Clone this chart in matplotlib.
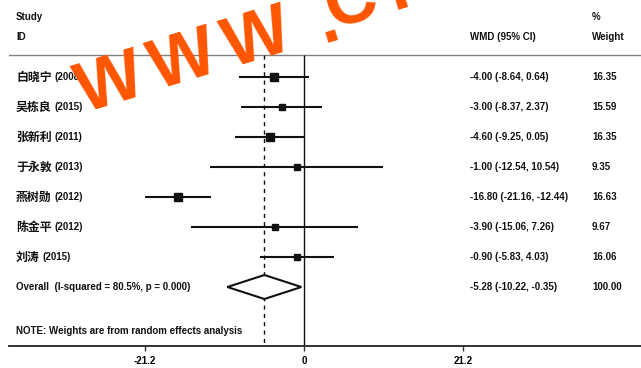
import numpy as np
import matplotlib
matplotlib.use("Agg")
import matplotlib.pyplot as plt

# study data
names = ["白晓宁", "吴栋良", "张新利", "于永敦", "燕树勋", "陈金平", "刘涛"]
years = ["2008", "2015", "2011", "2013", "2012", "2012", "2015"]
wmd = [-4.00, -3.00, -4.60, -1.00, -16.80, -3.90, -0.90]
ci_low = [-8.64, -8.37, -9.25, -12.54, -21.16, -15.06, -5.83]
ci_high = [0.64, 2.37, 0.05, 10.54, -12.44, 7.26, 4.03]
weights = [16.35, 15.59, 16.35, 9.35, 16.63, 9.67, 16.06]

overall_est = -5.28
overall_low = -10.22
overall_high = -0.35
i_squared = 80.5
p_value = 0.000

xticks = [-21.2, 0, 21.2]
xtick_labels = ["-21.2", "0", "21.2"]

W, H = 641, 368
fig = plt.figure(figsize=(W / 100, H / 100), dpi=100)
fig.patch.set_facecolor("white")

# axis spans from x pixel 9 to the right edge, bottom spine at pixel 346
ax = fig.add_axes([9 / W, (H - 346) / H, 1 - 9 / W, 346 / H])
px = 7.5  # pixels per unit
ax.set_xlim((9 - 304) / px, (W - 304) / px)
ax.set_ylim(1 + 269 / 30, 1 - 77 / 30)

for s in ["top", "left", "right"]:
    ax.spines[s].set_visible(False)
ax.spines["bottom"].set_color("#333333")
ax.spines["bottom"].set_linewidth(1.4)
ax.set_yticks([])
ax.set_xticks(xticks)
ax.set_xticklabels(xtick_labels, fontsize=7, fontweight="bold", family="Liberation Sans")
ax.tick_params(axis="x", length=3.5, width=1, color="#333333", pad=3.5)

txt = dict(fontsize=7, fontweight="bold", family="Liberation Sans", color="#111111", va="center")
cjk = dict(fontsize=8.6, fontweight="bold", family="Noto Sans CJK SC", color="#111111", va="center")

x_lab = (16 - 304) / px
x_wmd = (470 - 304) / px
x_wt = (592 - 304) / px

header_y = 1 - 22 / 30
ax.axhline(header_y, color="#808080", lw=1.0)
ax.text(x_lab, -1.0, "Study", **txt)
ax.text(x_lab, -1 / 3, "ID", **txt)
ax.text(x_wmd, -1 / 3, "WMD (95% CI)", **txt)
ax.text(x_wt, -1.0, "%", **txt)
ax.text(x_wt, -1 / 3, "Weight", **txt)

rows = np.arange(1, len(names) + 1)
ybot = ax.get_ylim()[0]
ax.vlines(0, header_y, ybot, color="#111111", lw=1.0)
ax.vlines(overall_est, header_y, ybot, color="#111111", lw=1.0, linestyles=(0, (3, 3)))

for r, n, yr, m, lo, hi, w in zip(rows, names, years, wmd, ci_low, ci_high, weights):
    ax.plot([lo, hi], [r, r], color="#111111", lw=1.5, solid_capstyle="butt")
    ax.plot(m, r, marker="s", color="#111111", ms=1.25 * np.sqrt(w))
    t = ax.text(x_lab, r, n, **cjk)
    ax.annotate("(%s)" % yr, xy=(1, 0.5), xycoords=t, xytext=(2, 0),
                textcoords="offset points", ha="left", **txt)
    ax.text(x_wmd, r, "%.2f (%.2f, %.2f)" % (m, lo, hi), **txt)
    ax.text(x_wt, r, "%.2f" % w, **txt)

# overall diamond
r_ov = len(names) + 1
dx = [overall_low, overall_est, overall_high, overall_est, overall_low]
dy = [r_ov, r_ov - 0.4, r_ov, r_ov + 0.4, r_ov]
ax.fill(dx, dy, facecolor="white", edgecolor="#111111", lw=1.5, zorder=3)
ax.text(x_lab, r_ov, "Overall  (I-squared = %.1f%%, p = %.3f)" % (i_squared, p_value), **txt)
ax.text(x_wmd, r_ov, "%.2f (%.2f, %.2f)" % (overall_est, overall_low, overall_high), **txt)
ax.text(x_wt, r_ov, "%.2f" % sum(weights), **txt)

ax.text(x_lab, 1 + 254 / 30, "NOTE: Weights are from random effects analysis", **txt)

# watermark, one glyph at a time along a tilted baseline
theta = 17.0
ct, st = np.cos(np.radians(theta)), np.sin(np.radians(theta))
x0, y0 = 115.5, 103
wm_chars = "WWW.C."
wm_steps = [0, 77, 154, 227, 252, 300]
wm_drop = [0, 0, 0, 3, -7, -8]
for ch, s, d in zip(wm_chars, wm_steps, wm_drop):
    bx, by = x0 + s * ct, y0 - s * st + d
    fig.text(bx / W, 1 - by / H, ch, fontsize=51, fontweight="bold", family="Liberation Sans",
             color="#FF5500", rotation=theta, rotation_mode="anchor",
             ha="center", va="baseline", zorder=10)

fig.savefig("out.png", dpi=100)
